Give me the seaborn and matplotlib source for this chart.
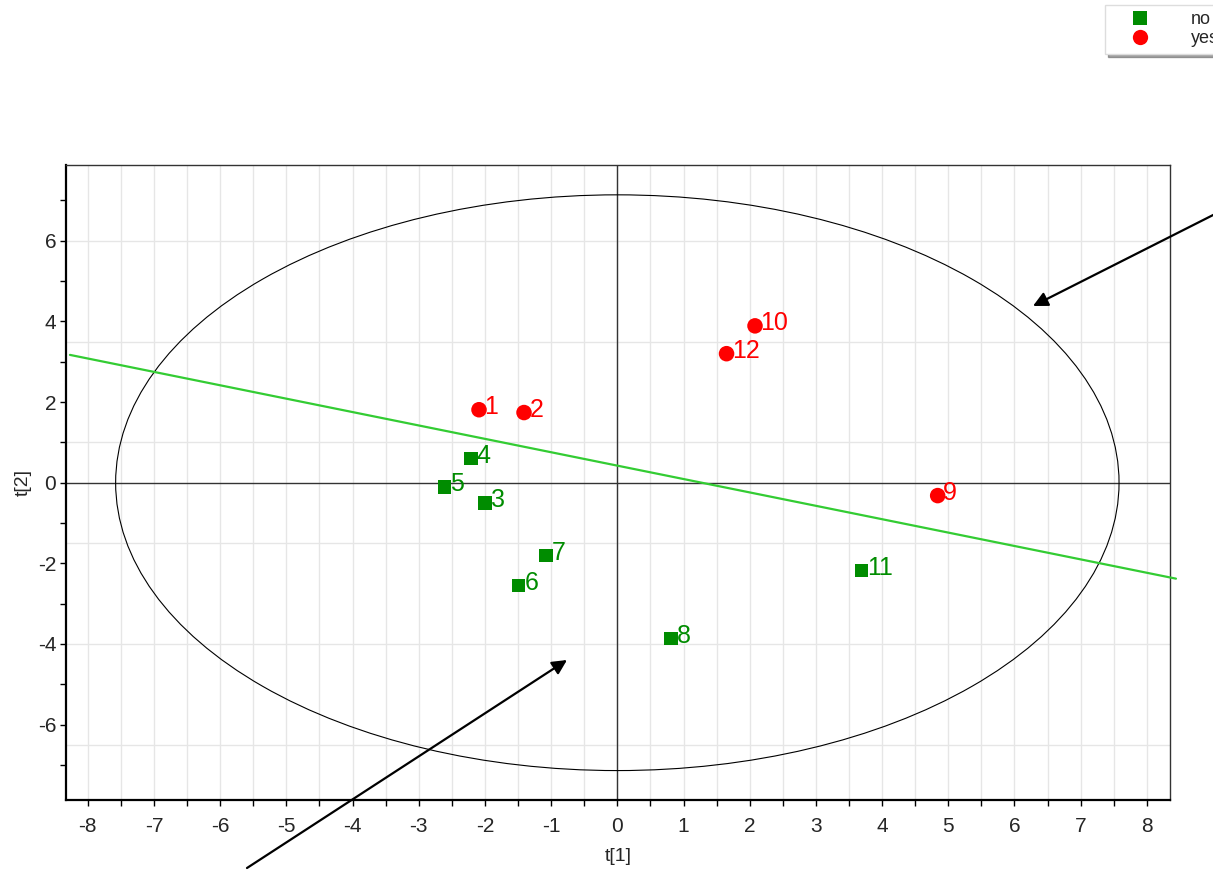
import numpy as np
import pandas as pd
import matplotlib
matplotlib.use("Agg")
import matplotlib.pyplot as plt
from matplotlib.patches import Ellipse
from matplotlib.lines import Line2D
from matplotlib.ticker import MultipleLocator
import seaborn as sns

# Score values t[1], t[2] for each observation
obs_ids = ["1", "2", "3", "4", "5", "6", "7", "8", "9", "10", "11", "12"]
t1 = [-2.09, -1.41, -2.00, -2.21, -2.61, -1.49, -1.08, 0.81, 4.84, 2.08, 3.69, 1.65]
t2 = [1.81, 1.74, -0.50, 0.60, -0.10, -2.55, -1.81, -3.87, -0.32, 3.89, -2.18, 3.20]
group = ["yes", "yes", "no", "no", "no", "no", "no", "no", "yes", "yes", "no", "yes"]

# Hotelling T2 ellipse semi-axes
ellipse_a = 7.58
ellipse_b = 7.14

# Separating line end points
line_x = [-8.27, 8.44]
line_y = [3.17, -2.38]

colors = {"no": "#008c00", "yes": "#ff0000"}
markers = {"no": "s", "yes": "o"}
sizes = {"no": 95, "yes": 125}

df = pd.DataFrame({"id": obs_ids, "t1": t1, "t2": t2, "group": group})

sns.set_style("white")
plt.rcParams["font.family"] = ["Liberation Sans", "DejaVu Sans"]

fig = plt.figure(figsize=(12.13, 8.72), dpi=100)
ax = fig.add_axes([66 / 1213, 72 / 872, (1170 - 66) / 1213, (800 - 165) / 872])

ax.set_xlim(-8.33, 8.35)
ax.set_ylim(-7.87, 7.88)

# grid
ax.xaxis.set_minor_locator(MultipleLocator(0.5))
ax.yaxis.set_minor_locator(MultipleLocator(1))
for gx in np.arange(-8.0, 8.01, 0.5):
    ax.axvline(gx, color="#e6e6e6", lw=1.0, zorder=0)
for gy in [-6.5, -4, -1.5, 1, 3.5, 6]:
    ax.axhline(gy, color="#e6e6e6", lw=1.0, zorder=0)

ax.axhline(0, color="#333333", lw=1.0, zorder=1)
ax.axvline(0, color="#333333", lw=1.0, zorder=1)

ax.add_patch(Ellipse((0, 0), 2 * ellipse_a, 2 * ellipse_b, fill=False,
                     edgecolor="black", lw=0.8, zorder=2))

ax.plot(line_x, line_y, color="#33cc33", lw=1.6, zorder=3, clip_on=False)

sns.scatterplot(data=df, x="t1", y="t2", hue="group", style="group",
                size="group", sizes=sizes,
                palette=colors, markers=markers, linewidth=0,
                legend=False, ax=ax, zorder=4)

for _, r in df.iterrows():
    ax.annotate(r["id"], (r["t1"], r["t2"]), xytext=(4, 2),
                textcoords="offset points", ha="left", va="center",
                fontsize=18, color=colors[r["group"]], zorder=5)

ax.set_xticks(np.arange(-8, 9, 1))
ax.set_xticklabels([str(v) for v in range(-8, 9)])
ax.set_yticks([-6, -4, -2, 0, 2, 4, 6])
ax.set_yticklabels(["-6", "-4", "-2", "0", "2", "4", "6"])
ax.tick_params(axis="both", which="both", direction="out", length=4,
               width=1, color="black", labelsize=15, bottom=True, left=True)
ax.tick_params(axis="x", pad=8)
ax.tick_params(axis="y", pad=3)

ax.set_xlabel("t[1]", fontsize=14, labelpad=9)
ax.set_ylabel("t[2]", fontsize=14, labelpad=4)

for side in ["left", "bottom"]:
    ax.spines[side].set_color("black")
    ax.spines[side].set_linewidth(1.6)
for side in ["top", "right"]:
    ax.spines[side].set_color("#333333")
    ax.spines[side].set_linewidth(1.0)

# legend
handles = [
    Line2D([], [], marker="s", color="none", markerfacecolor=colors["no"],
           markeredgewidth=0, markersize=9.5, label="no"),
    Line2D([], [], marker="o", color="none", markerfacecolor=colors["yes"],
           markeredgewidth=0, markersize=11, label="yes"),
]
leg = fig.legend(handles=handles, loc="upper left",
                 bbox_to_anchor=(1105 / 1213, 1 - 5 / 872),
                 bbox_transform=fig.transFigure, frameon=True, fontsize=13,
                 handlelength=3.2, handletextpad=1.2, labelspacing=0.12,
                 borderpad=0.35, borderaxespad=0, fancybox=False, shadow=True)
leg.get_frame().set_edgecolor("#dddddd")
leg.get_frame().set_linewidth(1.0)

# arrows
ax.annotate("", xy=(567, 872 - 660), xycoords="figure pixels",
            xytext=(247, 872 - 868), textcoords="figure pixels",
            arrowprops=dict(arrowstyle="-|>", color="black", lw=1.6,
                            mutation_scale=22, shrinkA=0, shrinkB=0),
            annotation_clip=False)
ax.annotate("", xy=(1033, 872 - 306), xycoords="figure pixels",
            xytext=(1225, 872 - 209), textcoords="figure pixels",
            arrowprops=dict(arrowstyle="-|>", color="black", lw=1.6,
                            mutation_scale=22, shrinkA=0, shrinkB=0),
            annotation_clip=False)

fig.savefig("out.png", dpi=100)
